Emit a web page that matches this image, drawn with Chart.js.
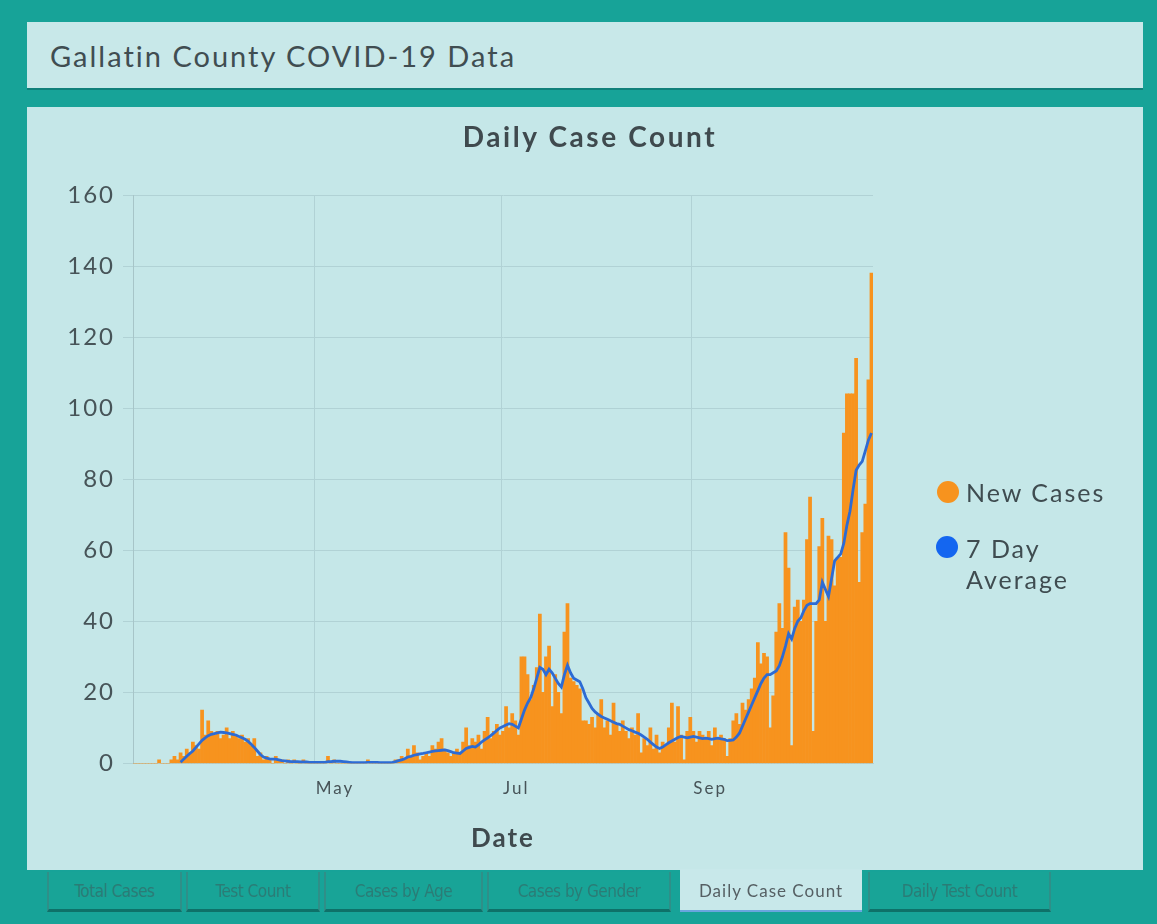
<!DOCTYPE html>
<html>
<head>
<meta charset="utf-8">
<script src="https://cdn.jsdelivr.net/npm/chart.js@4.4.0/dist/chart.umd.min.js"></script>
<style>
  html, body { margin: 0; padding: 0; }
  body { width: 1157px; height: 924px; background: #17a398; position: relative; overflow: hidden; font-family: Lato, "Open Sans", sans-serif; }
  .header { position: absolute; left: 27px; top: 22px; width: 1116px; height: 66px; background: #c8e8e9; border-bottom: 2px solid #10807a; }
  .header span { position: absolute; left: 23px; top: 16px; font-size: 29px; letter-spacing: 2px; color: #404d51; }
  .panel { position: absolute; left: 27px; top: 107px; width: 1116px; height: 763px; background: #c5e7e8; }
  .panel canvas { position: absolute; left: 0; top: 0; }
  .title { position: absolute; left: 0; width: 1126px; top: 12px; text-align: center; font-size: 28px; font-weight: bold; letter-spacing: 2.6px; color: #3f4a4e; }
  .dot { position: absolute; width: 22px; height: 22px; border-radius: 50%; }
  .legend-text { position: absolute; font-size: 25px; letter-spacing: 2px; color: #3f4c50; line-height: 31px; }
  .tab { position: absolute; top: 872px; height: 37px; background: #18a497; border-left: 2px solid #2f8f88; border-right: 2px solid #2f8f88; border-bottom: 3px solid #0e7169;
         color: #2b7c76; font-size: 17px; text-align: center; line-height: 38px; font-family: "DejaVu Sans Condensed", Lato, sans-serif; letter-spacing: -0.5px; }
  .tab.active { top: 869px; height: 41px; background: #c8e8ea; border: none; border-bottom: 2px solid #6aa5de; color: #555f63; font-family: Lato, sans-serif; font-size: 17px; line-height: 44px; letter-spacing: 1px; }
</style>
</head>
<body>
<div class="header"><span>Gallatin County COVID-19 Data</span></div>
<div class="panel">
  <canvas id="chart" width="1116" height="763"></canvas>
  <div class="title">Daily Case Count</div>
</div>

<div class="dot" style="left:937px; top:481px; background:#f7931e;"></div>
<div class="legend-text" style="left:966px; top:477px;">New Cases</div>
<div class="dot" style="left:936px; top:536px; background:#1466f0;"></div>
<div class="legend-text" style="left:966px; top:533px;">7 Day<br>Average</div>

<div class="tab" style="left:47px; width:131px;">Total Cases</div>
<div class="tab" style="left:186px; width:130px;">Test Count</div>
<div class="tab" style="left:324px; width:155px;">Cases by Age</div>
<div class="tab" style="left:487px; width:180px;">Cases by Gender</div>
<div class="tab active" style="left:680px; width:182px;">Daily Case Count</div>
<div class="tab" style="left:868px; width:179px;">Daily Test Count</div>

<script>
// daily new cases, one small array per month (2020)
const casesMar = [0,0,0,0,0,0,0,0,1,0,0,0,1,2,1,3,2,4,3,6,5,4,15,8,12,9,8,9,7]; // from Mar 3
const casesApr = [8,10,7,9,8,7,8,6,7,5,7,2,3,1,2,1,0,2,1,1,0,1,0,1,0,0,1,0,0,0];
const casesMay = [0,0,0,0,2,0,1,0,0,0,0,0,0,0,0,0,0,1,0,0,0,0,0,0,0,0,1,1,2,1,4];
const casesJun = [2,5,3,1,2,3,2,5,4,6,7,4,3,2,3,4,3,6,10,5,7,6,8,4,9,13,7,9,11,8];
const casesJul = [9,16,10,14,12,8,30,30,25,18,22,27,42,20,30,33,16,25,20,14,37,45,24,23,22,21,12,12,11,13,10];
const casesAug = [14,18,10,12,8,17,11,9,12,9,7,10,8,14,3,7,5,10,4,8,3,6,5,10,17,6,16,8,1,9,13];
const casesSep = [9,6,9,8,7,9,5,10,7,8,7,2,7,12,14,11,17,15,18,21,24,34,28,31,30,10,19,37,45,38];
const casesOct = [65,55,5,44,46,40,46,63,75,9,40,61,69,40,64,63,50,58,58,93,104,104,104,114,51,65,73,108,138]; // to Oct 29

// 7 day average
const avgMar = [null,null,null,null,null,null,null,null,null,null,null,null,null,null,null,0.3,1.2,2,2.8,3.5,4.5,5.5,6.5,7.2,7.8,8.2,8.4,8.6,8.8];
const avgApr = [8.7,8.6,8.4,8.2,8.0,7.6,7.2,6.8,6.2,5.4,4.5,3.5,2.5,1.8,1.5,1.3,1.2,1.2,1.0,0.8,0.7,0.6,0.5,0.5,0.5,0.4,0.4,0.4,0.3,0.3];
const avgMay = [0.3,0.3,0.3,0.3,0.5,0.5,0.6,0.6,0.6,0.5,0.4,0.3,0.2,0.2,0.2,0.2,0.2,0.3,0.3,0.3,0.3,0.2,0.2,0.2,0.2,0.3,0.5,0.8,1.0,1.3,1.8];
const avgJun = [2.0,2.3,2.5,2.7,2.8,3.0,3.2,3.4,3.5,3.6,3.7,3.8,3.6,3.3,3.0,2.9,2.8,3.5,4.2,4.5,4.8,4.6,5.2,6.0,6.6,7.2,7.8,8.5,9.3,10.0];
const avgJul = [10.4,10.8,11.2,11.0,10.5,10.0,12.5,15.0,17.0,18.5,21.0,24.0,27.0,26.5,25.0,26.5,25.5,24.0,22.5,21.5,25.0,27.6,25.5,24.0,23.5,23.0,21.0,18.5,17.0,15.5,14.5];
const avgAug = [13.8,13.2,12.8,12.4,12.0,11.6,11.2,11.0,10.5,10.0,9.5,9.2,8.8,8.5,8.0,7.4,6.8,6.0,5.3,4.6,4.2,4.6,5.2,5.8,6.3,6.8,7.3,7.6,7.4,7.2,7.4];
const avgSep = [7.6,7.4,7.2,7.0,7.1,7.0,6.8,7.0,7.1,6.9,6.8,6.4,6.5,6.6,7.4,8.5,10.5,12.5,14.5,16.5,18.5,20.5,22.5,24.0,25.0,25.0,25.5,26.0,27.5,30.0];
const avgOct = [33,36.5,35,38,40,41,43,44.5,45,45,45,46,51,49,47,52,57,58,59,62,67,71,77,82.5,84,85,88,91,93];

const tickDates = ['2020-05-01', '2020-07-01', '2020-09-01'];
const tickLabels = ['May', 'Jul', 'Sep'];

const newCases = [].concat(casesMar, casesApr, casesMay, casesJun, casesJul, casesAug, casesSep, casesOct);
const average = [].concat(avgMar, avgApr, avgMay, avgJun, avgJul, avgAug, avgSep, avgOct);

// one category per day, starting Mar 3 2020
const dates = [];
for (let i = 0; i < newCases.length; i++) {
  const d = new Date(Date.UTC(2020, 2, 3 + i));
  dates.push(d.toISOString().slice(0, 10));
}

Chart.defaults.font.family = 'Lato, "Open Sans", sans-serif';
const gridColor = '#b1d2d5';
const textColor = '#475458';

// the reference font runs wide, so space the canvas letters out a bit
const wideText = {
  id: 'wideText',
  beforeLayout(chart) { chart.ctx.letterSpacing = '2px'; },
  beforeDraw(chart) { chart.ctx.letterSpacing = '2px'; }
};

new Chart(document.getElementById('chart'), {
  type: 'bar',
  data: {
    labels: dates,
    datasets: [
      {
        type: 'line',
        label: '7 Day Average',
        data: average,
        borderColor: '#2d6bd4',
        borderWidth: 2.8,
        pointRadius: 0,
        tension: 0,
        order: 0
      },
      {
        type: 'bar',
        label: 'New Cases',
        data: newCases,
        backgroundColor: '#f7931e',
        categoryPercentage: 1,
        barPercentage: 1,
        order: 1
      }
    ]
  },
  plugins: [wideText],
  options: {
    responsive: false,
    animation: false,
    layout: { padding: { left: 0, right: 270, top: 88, bottom: 16 } },
    plugins: {
      legend: { display: false },
      tooltip: { enabled: false },
      title: { display: false }
    },
    scales: {
      x: {
        offset: true,
        grid: {
          offset: true,
          drawTicks: false,
          color: (c) => tickDates.includes(dates[c.index]) ? gridColor : 'rgba(0,0,0,0)'
        },
        border: { color: gridColor },
        ticks: {
          autoSkip: false,
          maxRotation: 0,
          minRotation: 0,
          align: 'start',
          padding: 15,
          color: textColor,
          font: { size: 17 },
          callback: (v, i) => {
            const k = tickDates.indexOf(dates[i]);
            return k >= 0 ? tickLabels[k] : '';
          }
        },
        title: {
          display: true,
          text: 'Date',
          color: '#3f4a4e',
          font: { size: 26, weight: 'bold' },
          padding: { top: 9, bottom: 0 }
        }
      },
      y: {
        min: 0,
        max: 160,
        ticks: { stepSize: 20, padding: 8, color: textColor, font: { size: 24 } },
        grid: { color: gridColor, tickLength: 10 },
        border: { color: '#a7c5c8' },
        afterFit: (s) => { s.width = 106; }
      }
    }
  }
});
</script>
</body>
</html>
